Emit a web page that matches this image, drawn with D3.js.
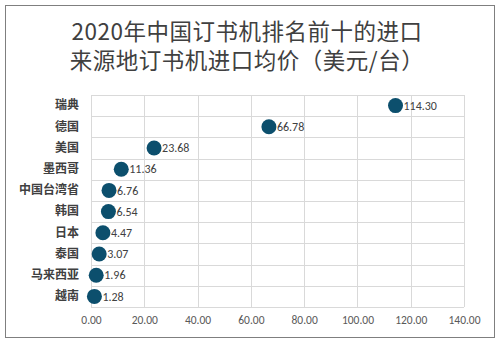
<!DOCTYPE html>
<html>
<head>
<meta charset="utf-8">
<script src="https://cdn.jsdelivr.net/npm/d3@7"></script>
<style>
  html, body { margin: 0; padding: 0; background: #fff; }
  svg { display: block; }
</style>
</head>
<body>
<svg id="chart" width="501" height="346"></svg>
<script>
// Average import price of staplers by source, 2020 (USD per unit)
const categories = ["瑞典", "德国", "美国", "墨西哥", "中国台湾省", "韩国", "日本", "泰国", "马来西亚", "越南"];
const prices = [114.30, 66.78, 23.68, 11.36, 6.76, 6.54, 4.47, 3.07, 1.96, 1.28];
const xTicks = [0, 20, 40, 60, 80, 100, 120, 140];
const titleLines = ["2020年中国订书机排名前十的进口", "来源地订书机进口均价（美元/台）"];

const svg = d3.select("#chart");
const plot = { left: 91, right: 464, top: 95, bottom: 307 };

// outer frame
svg.append("rect")
  .attr("x", 5.5).attr("y", 5.5)
  .attr("width", 489).attr("height", 332)
  .attr("fill", "#fff").attr("stroke", "#7f7f7f").attr("stroke-width", 1);

// title
svg.append("g").selectAll("text")
  .data(titleLines)
  .join("text")
  .attr("x", 247)
  .attr("y", (d, i) => 40 + i * 29)
  .attr("text-anchor", "middle")
  .attr("font-family", "'Noto Sans CJK SC', sans-serif")
  .attr("font-size", 22.5)
  .attr("letter-spacing", 0.5)
  .attr("fill", "#404040")
  .text(d => d);

const x = d3.scaleLinear().domain([0, 140]).range([plot.left, plot.right]);
const y = d3.scaleBand().domain(categories).range([plot.top, plot.bottom]);

// grid: vertical lines at ticks
const grid = svg.append("g").attr("stroke", "#d9d9d9").attr("stroke-width", 1).attr("shape-rendering", "crispEdges");
grid.selectAll("line.v")
  .data(xTicks)
  .join("line")
  .attr("class", "v")
  .attr("x1", d => Math.round(x(d)) + 0.5).attr("x2", d => Math.round(x(d)) + 0.5)
  .attr("y1", plot.top).attr("y2", plot.bottom);

// grid: horizontal lines between categories
const bandEdges = categories.map(c => y(c)).concat([plot.bottom]);
grid.selectAll("line.h")
  .data(bandEdges)
  .join("line")
  .attr("class", "h")
  .attr("x1", plot.left).attr("x2", plot.right)
  .attr("y1", d => Math.round(d) + 0.5).attr("y2", d => Math.round(d) + 0.5);

// x axis labels
const xAxis = d3.axisBottom(x).tickValues(xTicks).tickFormat(d3.format(".2f")).tickSize(0).tickPadding(9);
const gx = svg.append("g").attr("transform", `translate(0,${plot.bottom})`).call(xAxis);
gx.select(".domain").remove();
gx.selectAll("text")
  .attr("font-family", "Calibri, Carlito, 'Liberation Sans', sans-serif")
  .attr("font-size", 11.5)
  .attr("fill", "#595959");

// y axis labels
const yAxis = d3.axisLeft(y).tickSize(0).tickPadding(12);
const gy = svg.append("g").attr("transform", `translate(${plot.left},0)`).call(yAxis);
gy.select(".domain").remove();
gy.selectAll("text")
  .attr("font-family", "'Noto Sans CJK SC', sans-serif")
  .attr("font-size", 12)
  .attr("font-weight", "bold")
  .attr("fill", "#404040");

// dots
const rows = categories.map((c, i) => ({ c, v: prices[i] }));
svg.append("g").selectAll("circle")
  .data(rows)
  .join("circle")
  .attr("cx", d => x(d.v))
  .attr("cy", d => y(d.c) + y.bandwidth() / 2)
  .attr("r", 7.5)
  .attr("fill", "#0c4f6d");

// value labels
svg.append("g").selectAll("text")
  .data(rows)
  .join("text")
  .attr("x", d => x(d.v) + 8)
  .attr("y", d => y(d.c) + y.bandwidth() / 2)
  .attr("dy", "0.35em")
  .attr("font-family", "Calibri, Carlito, 'Liberation Sans', sans-serif")
  .attr("font-size", 12)
  .attr("fill", "#404040")
  .text(d => d.v.toFixed(2));
</script>
</body>
</html>
